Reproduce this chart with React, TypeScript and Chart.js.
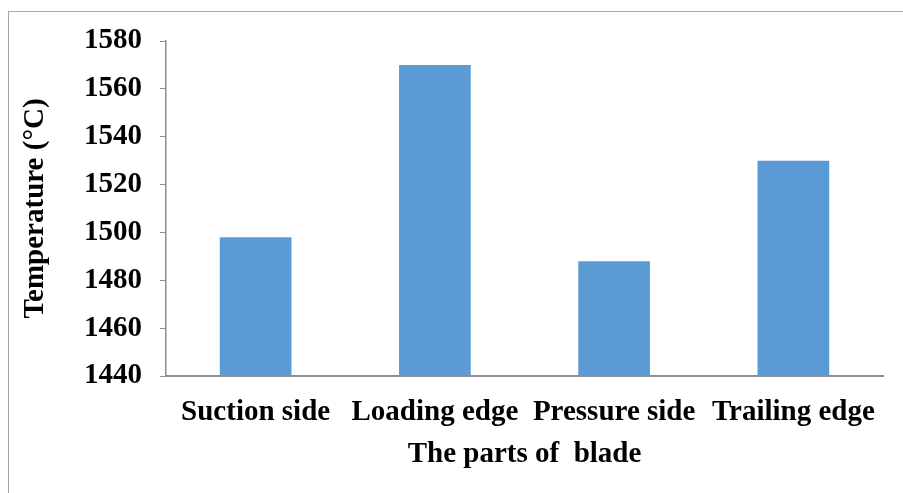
import React, { useEffect, useRef } from "react";
import { Chart, registerables } from "chart.js";

Chart.register(...registerables);

const categories = ["Suction side", "Loading edge", "Pressure side", "Trailing edge"];
const temperatures = [1498, 1570, 1488, 1530];
const yMin = 1440;
const yMax = 1580;
const yStep = 20;
const xTitle = "The parts of  blade";
const yTitle = "Temperature (°C)";

const FONT = "'Liberation Serif', 'Times New Roman', serif";
const AXIS_GRAY = "#8c8c8c";

export default function App() {
  const canvasRef = useRef<HTMLCanvasElement | null>(null);

  useEffect(() => {
    if (!canvasRef.current) return;
    const chart = new Chart(canvasRef.current, {
      type: "bar",
      data: {
        labels: categories,
        datasets: [
          {
            data: temperatures,
            backgroundColor: "#5b9bd5",
            borderWidth: 0,
            categoryPercentage: 1,
            barPercentage: 0.4,
          },
        ],
      },
      options: {
        animation: false,
        responsive: false,
        maintainAspectRatio: false,
        layout: { padding: { left: 0, right: 20, top: 41, bottom: 0 } },
        plugins: { legend: { display: false }, tooltip: { enabled: false } },
        scales: {
          x: {
            grid: { display: false, drawTicks: false },
            border: { display: true, color: AXIS_GRAY, width: 2 },
            ticks: {
              color: "#000",
              font: { family: FONT, size: 29, weight: "bold" },
              padding: 19,
              maxRotation: 0,
              autoSkip: false,
            },
            title: {
              display: true,
              text: xTitle,
              color: "#000",
              font: { family: FONT, size: 29, weight: "bold" },
              padding: { top: 0, bottom: 21 },
            },
            afterFit: (scale: any) => {
              scale.height = 117;
            },
          },
          y: {
            min: yMin,
            max: yMax,
            grid: {
              display: true,
              drawOnChartArea: false,
              drawTicks: true,
              tickLength: 6,
              color: AXIS_GRAY,
            },
            border: { display: true, color: AXIS_GRAY, width: 1.5 },
            ticks: {
              stepSize: yStep,
              color: "#000",
              font: { family: FONT, size: 29, weight: "bold" },
              padding: 18,
              callback: (value: any) => String(value),
            },
            title: {
              display: true,
              text: yTitle,
              color: "#000",
              font: { family: FONT, size: 29, weight: "bold" },
              padding: { top: 18, bottom: 0 },
            },
            afterFit: (scale: any) => {
              scale.width = 166;
            },
          },
        },
      },
    });
    return () => chart.destroy();
  }, []);

  return (
    <div style={{ position: "absolute", left: 0, top: 0, width: 903, height: 493, background: "#fff" }}>
      <div
        style={{
          position: "absolute",
          left: 8,
          top: 11,
          width: 903,
          height: 500,
          borderLeft: "1px solid #a6a6a6",
          borderTop: "1px solid #a6a6a6",
        }}
      />
      <canvas ref={canvasRef} width={903} height={493} style={{ position: "absolute", left: 0, top: 0 }} />
    </div>
  );
}
